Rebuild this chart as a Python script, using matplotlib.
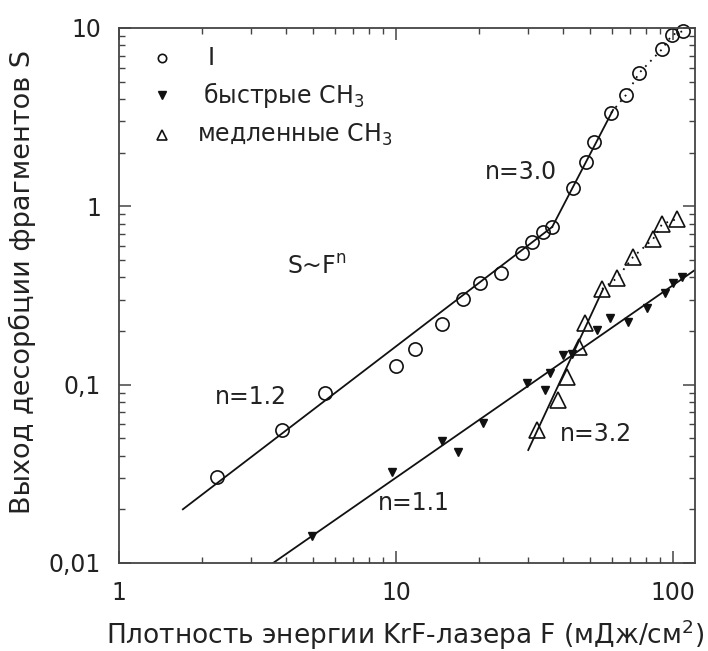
import matplotlib
matplotlib.use('Agg')
import matplotlib.pyplot as plt
from matplotlib.ticker import FixedLocator, FixedFormatter, LogLocator, NullFormatter

plt.rcParams['font.family'] = ['DejaVu Sans']
plt.rcParams['mathtext.fontset'] = 'dejavusans'

# Данные: I (кружки)
F_I = [2.26, 3.88, 5.54, 10.0, 11.7, 14.7, 17.5, 20.1, 23.9, 28.5, 31.0,
       33.9, 36.6, 43.5, 48.5, 51.9, 59.7, 67.6, 75.4, 91.3, 99.1, 108.7]
S_I = [0.0303, 0.0556, 0.0897, 0.127, 0.158, 0.219, 0.302, 0.372, 0.423,
       0.547, 0.631, 0.718, 0.766, 1.27, 1.77, 2.30, 3.34, 4.21, 5.59,
       7.62, 9.14, 9.62]

# быстрые CH3 (заполненные треугольники)
F_fast = [4.97, 9.67, 14.7, 16.7, 20.6, 29.7, 34.5, 36.0, 40.1, 43.2,
          53.2, 59.2, 68.8, 80.5, 93.5, 100.0, 107.8]
S_fast = [0.0142, 0.0324, 0.0483, 0.0419, 0.061, 0.102, 0.093, 0.116,
          0.147, 0.149, 0.202, 0.237, 0.224, 0.269, 0.327, 0.372, 0.401]

# медленные CH3 (открытые треугольники)
F_slow = [32.3, 38.4, 41.4, 45.8, 48.1, 55.4, 62.8, 71.7, 84.7, 91.3, 103.3]
S_slow = [0.0556, 0.082, 0.110, 0.163, 0.221, 0.344, 0.396, 0.520,
          0.656, 0.796, 0.849]

# Прямые S~F^n (концы отрезков)
fit_I1_F, fit_I1_S = [1.70, 36.6], [0.020, 0.766]      # n=1.2
fit_I3_F, fit_I3_S = [36.6, 60.7], [0.766, 3.47]       # n=3.0
fit_fast_F, fit_fast_S = [3.60, 120.0], [0.010, 0.44]  # n=1.1
fit_slow_F, fit_slow_S = [30.0, 55.9], [0.043, 0.344]  # n=3.2

fig = plt.figure(figsize=(7.08, 6.51), dpi=100)
ax = fig.add_axes([0.1681, 0.1352, 0.8136, 0.8218])
ax.set_xscale('log')
ax.set_yscale('log')
ax.set_xlim(1, 120)
ax.set_ylim(0.01, 10)

lc = '#111111'
tc = '#222222'
# линии аппроксимации
ax.plot(fit_I1_F, fit_I1_S, color=lc, lw=1.3)
ax.plot(fit_I3_F, fit_I3_S, color=lc, lw=1.3)
ax.plot(fit_fast_F, fit_fast_S, color=lc, lw=1.3)
ax.plot(fit_slow_F, fit_slow_S, color=lc, lw=1.3)

# пунктир по точкам в области насыщения
ax.plot(F_I[16:], S_I[16:], color=lc, lw=1.3, ls=(0, (1, 3)))
ax.plot(F_slow[5:], S_slow[5:], color=lc, lw=1.3, ls=(0, (1, 3)))

# точки
ax.plot(F_I, S_I, 'o', ms=9.5, mfc='none', mec=lc, mew=1.2, ls='none', clip_on=False)
ax.plot(F_fast, S_fast, 'v', ms=6, color=lc, ls='none')
ax.plot(F_slow, S_slow, '^', ms=11, mfc='none', mec=lc, mew=1.2, ls='none', clip_on=False)

# легенда вручную
ax.plot([0.075], [0.944], 'o', ms=6, mfc='none', mec=lc, mew=1.2, transform=ax.transAxes)
ax.plot([0.075], [0.875], 'v', ms=5.5, color=lc, transform=ax.transAxes)
ax.plot([0.075], [0.800], '^', ms=7, mfc='none', mec=lc, mew=1.2, transform=ax.transAxes)
ax.text(0.154, 0.944, 'I', transform=ax.transAxes, fontsize=17, va='center', color=tc)
ax.text(0.146, 0.875, 'быстрые CH$_3$', transform=ax.transAxes, fontsize=17, va='center', color=tc)
ax.text(0.136, 0.800, 'медленные CH$_3$', transform=ax.transAxes, fontsize=17, va='center', color=tc)

# подписи
ax.text(28.3, 1.56, 'n=3.0', fontsize=17, ha='center', va='center', color=tc)
ax.text(3.0, 0.085, 'n=1.2', fontsize=17, ha='center', va='center', color=tc)
ax.text(11.6, 0.0217, 'n=1.1', fontsize=17, ha='center', va='center', color=tc)
ax.text(52.7, 0.0528, 'n=3.2', fontsize=17, ha='center', va='center', color=tc)
ax.text(4.04, 0.457, 'S~F$^\\mathrm{n}$', fontsize=17, ha='left', va='center', color=tc)

# оси
ax.xaxis.set_major_locator(FixedLocator([1, 10, 100]))
ax.xaxis.set_major_formatter(FixedFormatter(['1', '10', '100']))
ax.xaxis.set_minor_locator(LogLocator(base=10, subs=range(2, 10)))
ax.xaxis.set_minor_formatter(NullFormatter())
ax.yaxis.set_major_locator(FixedLocator([0.01, 0.1, 1, 10]))
ax.yaxis.set_major_formatter(FixedFormatter(['0,01', '0,1', '1', '10']))
ax.yaxis.set_minor_locator(LogLocator(base=10, subs=range(2, 10)))
ax.yaxis.set_minor_formatter(NullFormatter())

ax.tick_params(which='both', direction='in', top=True, right=True, colors='#444444',
               labelcolor=tc, labelsize=17)
ax.tick_params(which='major', length=8.5, width=1.1, pad=13)
ax.tick_params(which='minor', length=4.5, width=1.0)
for s in ax.spines.values():
    s.set_color('#444444')
    s.set_linewidth(1.3)

ax.set_xlabel('Плотность энергии KrF-лазера F (мДж/см$^2$)', fontsize=19, color=tc, va='center')
ax.xaxis.set_label_coords(0.497, -0.135)
ax.set_ylabel('Выход десорбции фрагментов S', fontsize=19.5, color=tc, va='center')
ax.yaxis.set_label_coords(-0.168, 0.525)

fig.savefig('out.png', dpi=100)
